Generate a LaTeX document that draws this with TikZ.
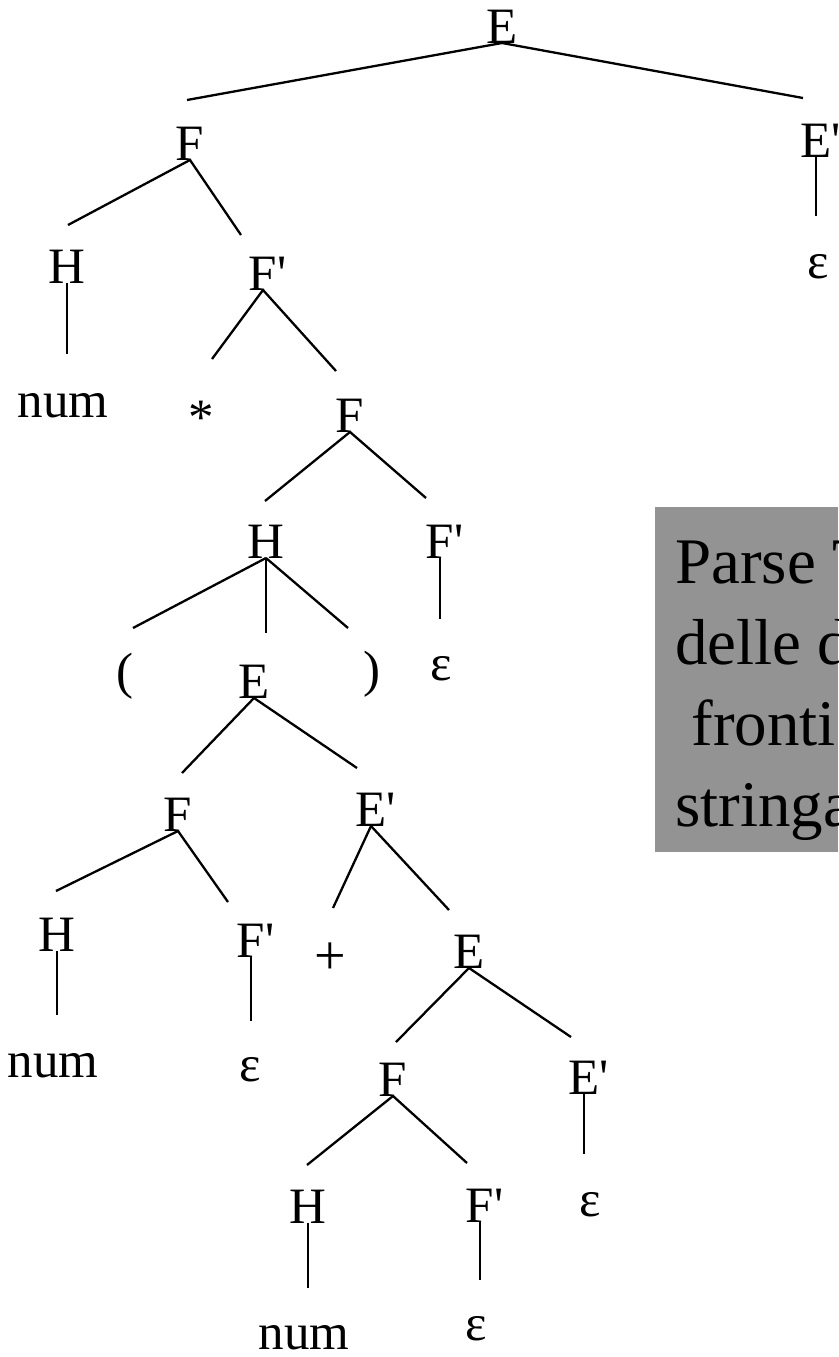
\documentclass[tikz,border=0pt]{standalone}
\usepackage{fontspec}
\newfontfamily\treefont{Liberation Serif}
\definecolor{notegray}{RGB}{147,147,147}

\tikzset{
  sym/.style={anchor=base, inner sep=0pt, font=\treefont\fontsize{51}{60}\selectfont},
  edge/.style={line width=2.3pt},
  notetext/.style={anchor=base west, inner sep=0pt, font=\treefont\fontsize{65}{81}\selectfont}
}

\begin{document}
\begin{tikzpicture}[x=1pt, y=-1pt]

\path [use as bounding box] (0,0) rectangle (838,1357);

% NOTE
\fill [notegray] (655,507) rectangle (838,852);
\foreach \txt [count=\i] in {Parse T, delle d, {\ fronti}, stringa}
  \node [notetext] (note\i) at (675,{583+81*(\i-1)}) {\txt};

% SYMBOLS
\node [sym] (E0) at (502,43) {E};
\node [sym] (F1) at (190,160) {F};
\node [sym] (E1) at (816,157) {E\rlap{'}};
\node [sym] (eps1) at (818,278) {ε};
\node [sym] (H2) at (67,283) {H};
\node [sym] (Fp2) at (263,290) {F\rlap{'}};
\node [sym] (num2) at (63,417) {num};
\node [sym] (star2) at (201,434) {*};
\node [sym] (F3) at (350,432) {F};
\node [sym] (H4) at (266,558) {H};
\node [sym] (Fp4) at (440,558) {F\rlap{'}};
\node [sym] (eps4) at (441,680) {ε};
\node [sym] (lp5) at (125,688) {(};
\node [sym] (E5) at (254,698) {E};
\node [sym] (rp5) at (372,686) {)};
\node [sym] (F6) at (178,831) {F};
\node [sym] (E6) at (371,826) {E\rlap{'}};
\node [sym] (H7) at (57,951) {H};
\node [sym] (Fp7) at (251,957) {F\rlap{'}};
\node [sym] (plus7) at (330,974) {\fontsize{56}{60}\selectfont +};
\node [sym] (E7) at (469,968) {E};
\node [sym] (num8) at (53,1077) {num};
\node [sym] (eps8) at (250,1081) {ε};
\node [sym] (F8) at (393,1096) {F};
\node [sym] (E8) at (584,1094) {E\rlap{'}};
\node [sym] (H9) at (308,1223) {H};
\node [sym] (Fp9) at (480,1222) {F\rlap{'}};
\node [sym] (eps9) at (590,1216) {ε};
\node [sym] (num10) at (304,1349) {num};
\node [sym] (eps10) at (476,1340) {ε};

% EDGES (free ends stop short of the child)
\draw [edge] (E0.base) -- (187,100) coordinate (t1);
\draw [edge] (E0.base) -- (803,98) coordinate (t2);
\draw [edge] (E1.base) -- (816,216) coordinate (t3);
\draw [edge] (F1.base) -- (68,225) coordinate (t4);
\draw [edge] (F1.base) -- (241,235) coordinate (t5);
\draw [edge] (H2.base) -- (67,354) coordinate (t6);
\draw [edge] (Fp2.base) -- (212,359) coordinate (t7);
\draw [edge] (Fp2.base) -- (336,371) coordinate (t8);
\draw [edge] (F3.base) -- (265,501) coordinate (t9);
\draw [edge] (F3.base) -- (426,498) coordinate (t10);
\draw [edge] (H4.base) -- (133,628) coordinate (t11);
\draw [edge] (H4.base) -- (266,633) coordinate (t12);
\draw [edge] (H4.base) -- (348,628) coordinate (t13);
\draw [edge] (Fp4.base) -- (440,619) coordinate (t14);
\draw [edge] (E5.base) -- (182,773) coordinate (t15);
\draw [edge] (E5.base) -- (357,768) coordinate (t16);
\draw [edge] (F6.base) -- (56,891) coordinate (t17);
\draw [edge] (F6.base) -- (228,902) coordinate (t18);
\draw [edge] (E6.base) -- (333,908) coordinate (t19);
\draw [edge] (E6.base) -- (449,910) coordinate (t20);
\draw [edge] (H7.base) -- (57,1015) coordinate (t21);
\draw [edge] (Fp7.base) -- (251,1021) coordinate (t22);
\draw [edge] (E7.base) -- (396,1042) coordinate (t23);
\draw [edge] (E7.base) -- (571,1037) coordinate (t24);
\draw [edge] (F8.base) -- (307,1165) coordinate (t25);
\draw [edge] (F8.base) -- (467,1163) coordinate (t26);
\draw [edge] (E8.base) -- (584,1154) coordinate (t27);
\draw [edge] (H9.base) -- (308,1288) coordinate (t28);
\draw [edge] (Fp9.base) -- (480,1280) coordinate (t29);

\end{tikzpicture}
\end{document}
